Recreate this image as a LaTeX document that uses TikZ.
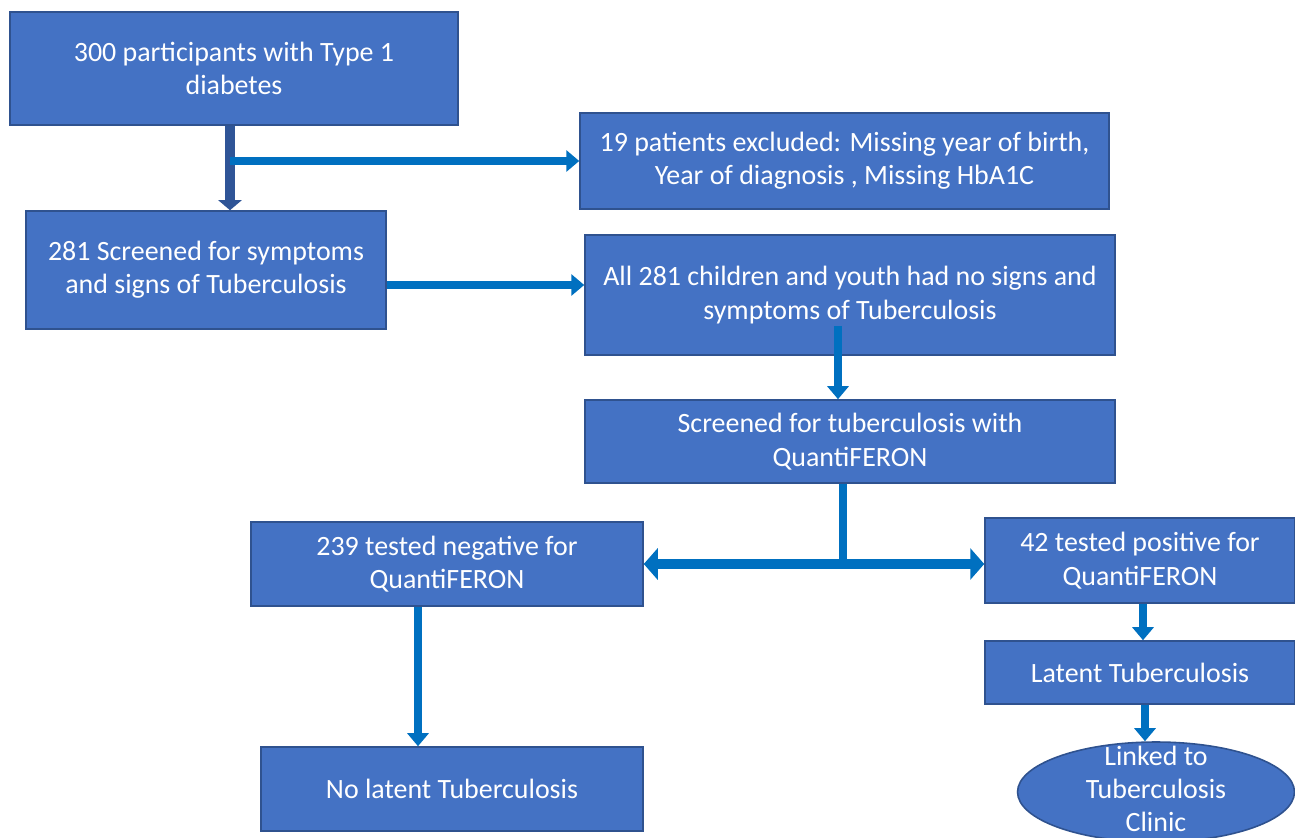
\documentclass[tikz,border=0pt]{standalone}
\usepackage{fontspec}
\setmainfont{Carlito}
\usepackage{tikz}
\usetikzlibrary{arrows.meta,positioning,shapes.geometric,calc}

\definecolor{relleno}{HTML}{4472C4}
\definecolor{borde}{HTML}{2F528F}
\definecolor{flujoazul}{HTML}{0070C0}
\definecolor{flujoosc}{HTML}{2F5597}

\begin{document}
\begin{tikzpicture}[x=0.02cm, y=-0.02cm,
  caja/.style={draw=borde, line width=0.9pt, fill=relleno, text=white,
               align=center, inner sep=0pt,
               font=\fontsize{15.9}{19}\selectfont},
  texto/.style={text=white, align=center, inner sep=0pt,
                font=\fontsize{15.9}{19}\selectfont},
  flecha/.style={draw=flujoazul, line width=0.16cm,
                 -{Triangle[length=0.26cm, width=0.42cm]}},
  flechaosc/.style={draw=flujoosc, line width=0.2cm,
                    -{Triangle[length=0.2cm, width=0.46cm]}},
  flechados/.style={draw=flujoazul, line width=0.2cm,
                    {Triangle[length=0.28cm, width=0.62cm]}-{Triangle[length=0.28cm, width=0.62cm]}},
]
  \useasboundingbox (0,0) rectangle (1295,838);

  % Cajas del flujo
  \node[caja, minimum width=8.96cm, minimum height=2.26cm] (top) at (234,68.5)
    {300 participants with Type 1\\diabetes};
  \node[caja, minimum width=10.58cm, minimum height=1.92cm] (excl) at (844.5,161)
    {19 patients excluded: Missing year of birth,\\Year of diagnosis , Missing HbA1C};
  \node[caja, minimum width=7.2cm, minimum height=2.36cm] (scr) at (206,270)
    {281 Screened for symptoms\\and signs of Tuberculosis};
  \node[caja, minimum width=10.6cm, minimum height=2.4cm] (nosym) at (850,295)
    {All 281 children and youth had no signs and\\symptoms of Tuberculosis};
  \node[caja, minimum width=10.6cm, minimum height=1.66cm] (qft) at (850,441.5)
    {Screened for tuberculosis with\\QuantiFERON};
  \node[caja, minimum width=7.84cm, minimum height=1.68cm] (neg) at (447,564)
    {239 tested negative for\\QuantiFERON};
  \node[caja, minimum width=6.2cm, minimum height=1.7cm] (pos) at (1140,560.5)
    {42 tested positive for\\QuantiFERON};
  \node[caja, minimum width=6.2cm, minimum height=1.26cm] (latent) at (1140,672.5)
    {Latent Tuberculosis};
  \node[caja, minimum width=7.64cm, minimum height=1.68cm] (nolat) at (452,789)
    {No latent Tuberculosis};
  % el texto de la elipse desborda su contorno
  \node[caja, ellipse, minimum width=5.54cm, minimum height=2.0cm] (clinic) at (1156,792) {};
  \node[texto] (clinictxt) at (1156,789) {Linked to\\Tuberculosis\\Clinic};

  % Conectores
  \draw[flechaosc] ([xshift=-0.08cm]top.south) -- ([xshift=-0.08cm]top.south |- scr.north);
  \coordinate (rama) at ([xshift=-0.08cm]top.south |- excl.west);
  \draw[flecha] (rama) -- (excl.west);
  \coordinate (salida) at ([yshift=-0.3cm]scr.east);
  \draw[flecha] (salida) -- (nosym.west |- salida);
  \draw[flecha] ([xshift=-0.24cm,yshift=0.6cm]nosym.south) -- ([xshift=-0.24cm]qft.north);

  % Bifurcacion QuantiFERON
  \coordinate (cruce) at ([xshift=-0.14cm]qft.south |- neg.east);
  \draw[draw=flujoazul, line width=0.16cm] ([xshift=-0.14cm]qft.south) -- ([yshift=0.1cm]cruce);
  \draw[flechados] (neg.east |- cruce) -- (pos.west |- cruce);

  \draw[flecha] ([xshift=-0.58cm]neg.south) -- ([xshift=-0.58cm]neg.south |- nolat.north);
  \draw[flecha] ([xshift=0.06cm]pos.south) -- ([xshift=0.06cm]latent.north);
  \draw[flecha] ([xshift=0.1cm]latent.south) -- ([xshift=0.1cm]latent.south |- clinic.north);
\end{tikzpicture}
\end{document}
